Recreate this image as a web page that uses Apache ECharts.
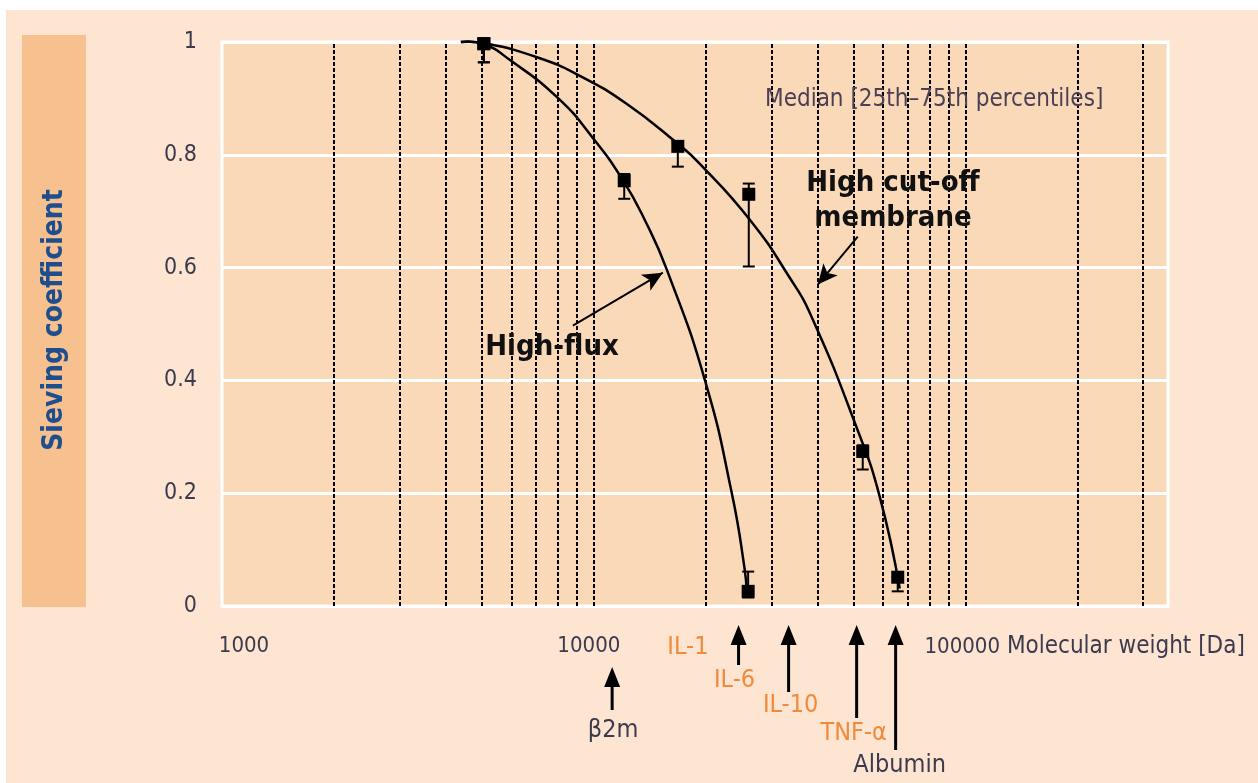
<!DOCTYPE html>
<html>
<head>
<meta charset="utf-8">
<script src="https://cdn.jsdelivr.net/npm/echarts@6/dist/echarts.min.js"></script>
<style>
  html, body { margin: 0; padding: 0; background: #fff; }
  #chart { width: 1258px; height: 783px; }
</style>
</head>
<body>
<div id="chart"></div>
<script>
// x axis (molecular weight, log scale)
const xTicks = [1000, 10000, 100000];
const xTickLabels = ['1000', '10000', '100000'];
const xAxisTitle = 'Molecular weight [Da]';
const dashedLinesX = [2000, 3000, 4000, 5000, 6000, 7000, 8000, 9000, 10000,
  20000, 30000, 40000, 50000, 60000, 70000, 80000, 90000, 100000, 200000, 300000];

// fitted curves
const hfCurveX = [4390, 5060, 5950, 8000, 9880, 11970, 13720, 15720, 19880, 23500, 25460, 25780];
const hfCurveY = [1.0, 0.996, 0.968, 0.901, 0.832, 0.755, 0.684, 0.596, 0.401, 0.200, 0.064, 0.023];
const hcoCurveX = [4390, 5060, 7030, 9170, 12270, 16720, 19280, 26270, 33640, 38550, 50930, 58720, 66460];
const hcoCurveY = [1.0, 0.998, 0.973, 0.940, 0.890, 0.821, 0.784, 0.685, 0.582, 0.512, 0.316, 0.194, 0.031];

// measured medians + 25th / 75th percentiles
const hfX = [5060, 12070, 26000];
const hfMedian = [0.997, 0.754, 0.026];
const hfP25 = [0.964, 0.722, 0.015];
const hfP75 = [0.997, 0.766, 0.061];
const hcoX = [5060, 16820, 26100, 52860, 65650];
const hcoMedian = [0.997, 0.815, 0.730, 0.274, 0.051];
const hcoP25 = [0.964, 0.779, 0.602, 0.242, 0.026];
const hcoP75 = [0.997, 0.822, 0.749, 0.285, 0.051];

// molecules marked under the axis
const markerNames = ['β2m', 'IL-1', 'IL-6', 'IL-10', 'TNF-α', 'Albumin'];
const markerWeights = [11200, 17900, 24500, 33400, 50900, 64800];

// layout for the markers (pixels)
const markerLabelY = [730, 647, 680, 705, 733, 765];
const markerLabelDx = [1, 0, -4, 2, -3, 4];
const markerArrowTop = [667, null, 625, 625, 625, 625];
const markerArrowBottom = [710, null, 665, 692, 718, 750];
const markerColors = ['#3b3a4e', '#f08a3c', '#f08a3c', '#f08a3c', '#f08a3c', '#3b3a4e'];

const FONT = '"DejaVu Sans Condensed", "Liberation Sans Narrow", sans-serif';
const TEXT = '#3b3a4e';

const zip = (a, b) => a.map((v, i) => [v, b[i]]);

const chart = echarts.init(document.getElementById('chart'));

const errorBars = (xs, lo, hi) => ({
  type: 'custom',
  z: 4,
  data: xs.map((x, i) => [x, lo[i], hi[i]]),
  renderItem: function (params, api) {
    const pLo = api.coord([api.value(0), api.value(1)]);
    const pHi = api.coord([api.value(0), api.value(2)]);
    const st = { stroke: '#000', lineWidth: 2 };
    return {
      type: 'group',
      children: [
        { type: 'line', shape: { x1: pLo[0], y1: pLo[1], x2: pHi[0], y2: pHi[1] }, style: st },
        { type: 'line', shape: { x1: pLo[0] - 6, y1: pLo[1], x2: pLo[0] + 6, y2: pLo[1] }, style: st },
        { type: 'line', shape: { x1: pHi[0] - 6, y1: pHi[1], x2: pHi[0] + 6, y2: pHi[1] }, style: st }
      ]
    };
  }
});

// fitted curve drawn as one smooth polyline through the axis coordinates
const curve = (name, xs, ys) => ({
  type: 'custom',
  name: name,
  z: 3,
  clip: false,
  data: zip(xs, ys),
  renderItem: function (params, api) {
    if (params.dataIndexInside !== 0) return null;
    const pts = xs.map((x, j) => api.coord([x, ys[j]]));
    return {
      type: 'polyline',
      shape: { points: pts, smooth: 0.5 },
      style: { stroke: '#000', lineWidth: 2.5, fill: null }
    };
  }
});

const labelStyle = { fontSize: 22, fontFamily: FONT, color: TEXT };

const option = {
  animation: false,
  backgroundColor: '#fff',
  grid: {
    left: 222, top: 42, width: 946, height: 564,
    show: true, backgroundColor: '#fad9b8', borderColor: '#fff', borderWidth: 3
  },
  xAxis: {
    type: 'log',
    logBase: 10,
    min: 1000,
    max: 350000,
    axisLine: { show: false },
    axisTick: { show: false },
    splitLine: { show: false },
    axisLabel: {
      margin: 29,
      showMaxLabel: false,
      color: TEXT,
      fontSize: 22,
      fontFamily: FONT,
      formatter: function (v) {
        const i = xTicks.indexOf(Math.round(v));
        if (i < 0) return '';
        if (i === 2) return '{t2|' + xTickLabels[i] + '}{t3| ' + xAxisTitle + '}';
        return '{t' + i + '|' + xTickLabels[i] + '}';
      },
      rich: {
        t0: Object.assign({ padding: [0, 0, 0, 44] }, labelStyle),
        t1: Object.assign({ padding: [0, 10, 0, 0] }, labelStyle),
        t2: Object.assign({ padding: [0, 0, 0, 238] }, labelStyle),
        t3: Object.assign({}, labelStyle, { fontSize: 24 })
      }
    }
  },
  yAxis: {
    type: 'value',
    min: 0,
    max: 1,
    interval: 0.2,
    axisLine: { show: false },
    axisTick: { show: false },
    splitLine: { lineStyle: { color: '#fff', width: 3 } },
    axisLabel: { margin: 25, color: TEXT, fontSize: 23, fontFamily: FONT }
  },
  series: [
    {
      // dashed vertical guide lines
      type: 'line',
      z: 1,
      data: [],
      markLine: {
        silent: true,
        symbol: 'none',
        label: { show: false },
        lineStyle: { color: '#000', width: 2, type: [4, 2] },
        data: dashedLinesX.map(x => ({ xAxis: x }))
      }
    },
    curve('High-flux', hfCurveX, hfCurveY),
    curve('High cut-off membrane', hcoCurveX, hcoCurveY),
    errorBars(hfX, hfP25, hfP75),
    errorBars(hcoX, hcoP25, hcoP75),
    {
      type: 'scatter', z: 5, symbol: 'rect', symbolSize: 13,
      itemStyle: { color: '#000', opacity: 1 }, data: zip(hfX, hfMedian)
    },
    {
      type: 'scatter', z: 5, symbol: 'rect', symbolSize: 13,
      itemStyle: { color: '#000', opacity: 1 }, data: zip(hcoX, hcoMedian)
    },
    {
      // pointer arrows to the curves
      type: 'line',
      z: 6,
      data: [],
      markLine: {
        silent: true,
        symbol: ['none', 'arrow'],
        symbolSize: [14, 20],
        label: { show: false },
        lineStyle: { color: '#000', width: 2, type: 'solid' },
        data: [
          [{ coord: [8780, 0.497] }, { coord: [15330, 0.591] }],
          [{ coord: [51250, 0.655] }, { coord: [40020, 0.570] }]
        ]
      }
    }
  ]
};

chart.setOption(option);

const graphics = [
  { type: 'rect', z: -10, shape: { x: 6, y: 10, width: 1252, height: 773 }, style: { fill: '#fde5d2' } },
  { type: 'rect', z: -9, shape: { x: 22, y: 35, width: 64, height: 572 }, style: { fill: '#f7c18f' } },
  {
    type: 'text', z: 10, x: 55, y: 320, rotation: Math.PI / 2,
    style: { text: 'Sieving coefficient', fill: '#1f4e8e', font: 'bold 28px ' + FONT, align: 'center', verticalAlign: 'middle' }
  },
  {
    type: 'text', z: 10, x: 765, y: 100,
    style: { text: 'Median [25th–75th percentiles]', fill: '#4a3f55', font: '24px ' + FONT, align: 'left', verticalAlign: 'middle' }
  },
  {
    type: 'text', z: 10, x: 893, y: 201,
    style: { text: 'High cut-off\nmembrane', fill: '#111', font: 'bold 29px ' + FONT, align: 'center', verticalAlign: 'middle', lineHeight: 35 }
  },
  {
    type: 'text', z: 10, x: 552, y: 347,
    style: { text: 'High-flux', fill: '#111', font: 'bold 29px ' + FONT, align: 'center', verticalAlign: 'middle' }
  }
];

markerNames.forEach(function (name, i) {
  const px = chart.convertToPixel({ xAxisIndex: 0 }, markerWeights[i]);
  if (markerArrowTop[i] != null) {
    const top = markerArrowTop[i];
    graphics.push({
      type: 'line', z: 10,
      shape: { x1: px, y1: top + 16, x2: px, y2: markerArrowBottom[i] },
      style: { stroke: '#000', lineWidth: 3 }
    });
    graphics.push({
      type: 'polygon', z: 10,
      shape: { points: [[px, top], [px - 8, top + 20], [px + 8, top + 20]] },
      style: { fill: '#000' }
    });
  }
  graphics.push({
    type: 'text', z: 10, x: px + markerLabelDx[i], y: markerLabelY[i],
    style: { text: name, fill: markerColors[i], font: '25px ' + FONT, align: 'center', verticalAlign: 'middle' }
  });
});

chart.setOption({ graphic: graphics });
</script>
</body>
</html>
